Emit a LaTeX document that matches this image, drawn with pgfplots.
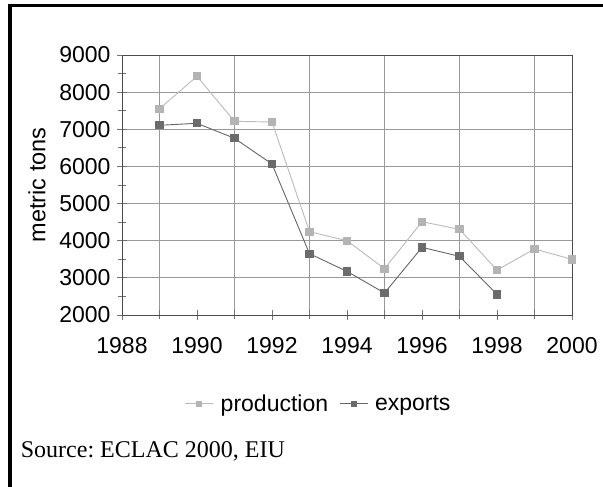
\documentclass[border=0pt]{standalone}
\usepackage{pgfplots}
\pgfplotsset{compat=1.18}
\usepackage{fontspec}
\setmainfont{Liberation Serif}
\newfontfamily\arial{Liberation Sans}
\definecolor{prodc}{HTML}{B4B4B4}
\definecolor{prodl}{HTML}{BBBBBB}
\definecolor{expc}{HTML}{6B6B6B}
\definecolor{expl}{HTML}{666666}
\frenchspacing
\begin{document}
\begin{tikzpicture}[x=1bp,y=1bp]
\useasboundingbox (0,0) rectangle (603,487);
\draw[line width=3.8bp] (10.3,-2) -- (10.3,481.5) -- (610,481.5);
\begin{axis}[
  at={(122bp,172bp)}, anchor=origin,
  scale only axis, width=450bp, height=260bp,
  xmin=1988, xmax=2000, ymin=2000, ymax=9000,
  xtick={1988,1990,...,2000},
  minor xtick={1989,1991,...,1999},
  ytick={2000,3000,...,9000},
  minor ytick={2500,3500,...,8500},
  tick pos=left,
  xmajorgrids=false, xminorgrids=true, ymajorgrids=true,
  grid style={color=black!40, line width=0.8bp},
  minor grid style={color=black!40, line width=0.8bp},
  axis line style={black!70, line width=0.9bp},
  tick align=center,
  major tick length=10bp, minor tick length=9bp,
  every tick/.style={black!55, line width=0.8bp},
  /pgf/number format/assume math mode=true,
  /pgf/number format/1000 sep={},
  tick label style={font=\arial\fontsize{23bp}{27bp}\selectfont},
  xticklabel style={anchor=north, yshift=-14bp},
  yticklabel style={anchor=east, xshift=-3bp},
  ylabel={metric tons},
  ylabel style={font=\arial\fontsize{23.5bp}{27bp}\selectfont, at={(axis description cs:-0.189,0.5)}, anchor=center},
  legend columns=2,
  legend style={at={(0.437,-0.342)}, anchor=center, draw=none, fill=none,
     font=\arial\fontsize{23bp}{27bp}\selectfont,
     /tikz/every odd column/.append style={column sep=5bp},
     /tikz/every even column/.append style={column sep=9bp},
     inner sep=0pt},
  legend image code/.code={\draw[mark repeat=2,mark phase=2,#1, mark size=2.5bp] plot coordinates {(0bp,0bp) (14bp,0bp) (28bp,0bp)};},
]
\addplot[color=prodl, line width=0.9bp, mark=square*, mark size=3.6bp, mark options={fill=prodc, draw=prodc}] coordinates {
(1989,7554) (1990,8426) (1991,7214) (1992,7196) (1993,4243) (1994,4000)
(1995,3246) (1996,4512) (1997,4306) (1998,3211) (1999,3777) (2000,3498)};
\addlegendentry{production}
\addplot[color=expl, line width=0.9bp, mark=square*, mark size=3.6bp, mark options={fill=expc, draw=expc}] coordinates {
(1989,7107) (1990,7161) (1991,6757) (1992,6065) (1993,3650) (1994,3174)
(1995,2592) (1996,3821) (1997,3579) (1998,2555)};
\addlegendentry{exports}
\end{axis}
\node[anchor=base west, inner sep=0pt, font=\fontsize{24bp}{28bp}\selectfont] at (20.7,29) {Source: ECLAC 2000, EIU};
\end{tikzpicture}
\end{document}
